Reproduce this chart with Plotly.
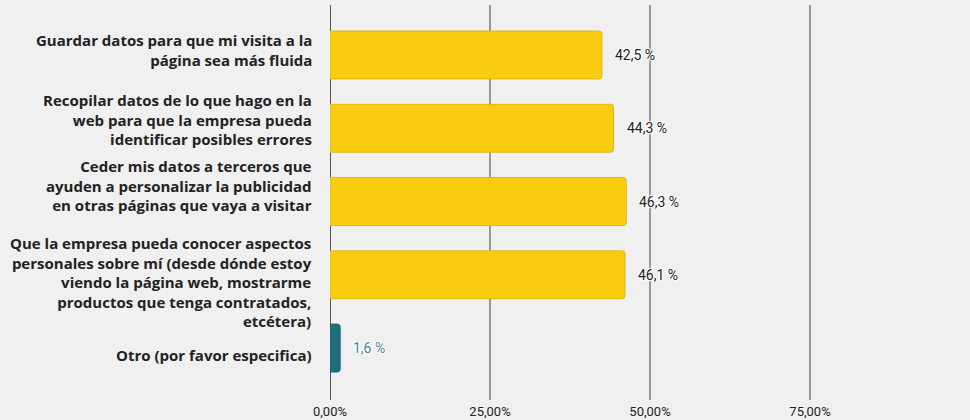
import plotly.graph_objects as go

categories = [
    "Guardar datos para que mi visita a la<br>página sea más fluida",
    "Recopilar datos de lo que hago en la<br>web para que la empresa pueda<br>identificar posibles errores",
    "Ceder mis datos a terceros que<br>ayuden a personalizar la publicidad<br>en otras páginas que vaya a visitar",
    "Que la empresa pueda conocer aspectos<br>personales sobre mí (desde dónde estoy<br>viendo la página web, mostrarme<br>productos que tenga contratados,<br>etcétera)",
    "Otro (por favor especifica)",
]
values = [42.5, 44.3, 46.3, 46.1, 1.6]
bar_colors = ["#F9CD0F", "#F9CD0F", "#F9CD0F", "#F9CD0F", "#1E6E7C"]
line_colors = ["#D9B000", "#D9B000", "#D9B000", "#D9B000", "#175A66"]
text_colors = ["#222222", "#222222", "#222222", "#222222", "#3B8A95"]
label_shifts = [5, 9, 16, -7, -7]
tick_vals = [0, 25, 50, 75]
tick_text = ["0,00%", "25,00%", "50,00%", "75,00%"]

labels = [f"{v:.1f}".replace(".", ",") + " %" for v in values]

fig = go.Figure()
fig.add_trace(go.Bar(
    y=list(range(len(categories))),
    x=values,
    orientation="h",
    width=0.655,
    marker=dict(color=bar_colors, line=dict(color=line_colors, width=0.8), cornerradius=3),
    hoverinfo="skip",
))

for i, (v, t, c) in enumerate(zip(values, labels, text_colors)):
    fig.add_annotation(
        x=v, y=i, text=t, showarrow=False, xanchor="left", xshift=11,
        font=dict(family="Roboto", size=14, color=c,
                  shadow="1px 1px 1px #fff, -1px -1px 1px #fff, 1px -1px 1px #fff, -1px 1px 1px #fff"),
    )

for i, (cat, s) in enumerate(zip(categories, label_shifts)):
    fig.add_annotation(
        xref="paper", x=0, y=i, text=cat, showarrow=False,
        xanchor="right", yanchor="middle", align="right", xshift=-16, yshift=s,
        font=dict(family="Open Sans", size=15, color="#222222", weight="bold"),
    )

fig.update_layout(
    width=970, height=420,
    margin=dict(l=330, r=0, t=5, b=20, autoexpand=False),
    paper_bgcolor="#F0F0F0",
    plot_bgcolor="#F0F0F0",
    showlegend=False,
)
fig.update_xaxes(
    range=[0, 100],
    tickvals=tick_vals, ticktext=tick_text,
    showgrid=True, gridcolor="#9A9A9A", gridwidth=1.5,
    zeroline=False,
    tickfont=dict(family="Roboto", size=13, color="#222222"),
    ticks="", ticklabelstandoff=2,
    fixedrange=True,
)
fig.update_yaxes(
    range=[4.709, -0.682],
    showticklabels=False,
    showgrid=False, zeroline=False,
    showline=False,
    ticks="",
    fixedrange=True,
)
fig.add_shape(type="line", xref="x", yref="paper", x0=0, x1=0, y0=0, y1=1,
              line=dict(color="#555555", width=2), layer="below")

fig.write_html("out.html", config={"displayModeBar": False},
               post_script="document.body.style.margin='0';document.body.style.overflow='hidden';")
